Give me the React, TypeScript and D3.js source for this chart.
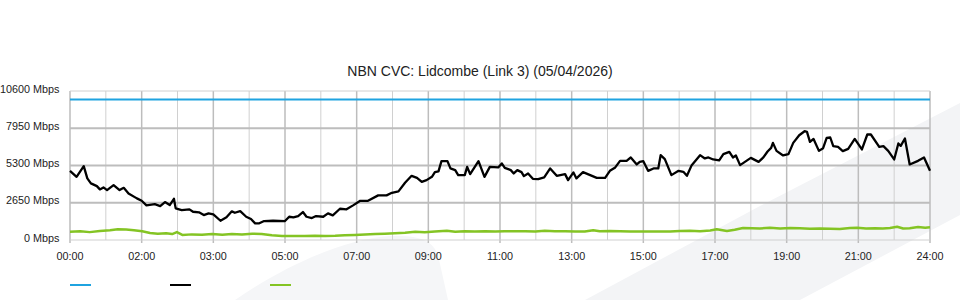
import React from "react";
import * as d3 from "d3";

const title = "NBN CVC: Lidcombe (Link 3) (05/04/2026)";
const yTicks = [0, 2650, 5300, 7950, 10600];
const xTickLabels = ["00:00", "02:00", "03:00", "05:00", "07:00", "09:00", "11:00", "13:00", "15:00", "17:00", "19:00", "21:00", "24:00"];
const capacity = 10000;

// minutes from start of chart, Mbps
const usageMinutes = [0, 11, 23, 29, 35, 45, 50, 56, 62, 73, 83, 90, 98, 112, 120, 128, 142, 151, 159, 167, 174, 177, 187, 200, 206, 216, 224, 232, 240, 252, 262, 271, 276, 285, 295, 303, 310, 317, 325, 340, 360, 367, 374, 382, 390, 396, 405, 412, 424, 432, 440, 452, 463, 474, 486, 499, 516, 530, 539, 550, 561, 572, 581, 589, 597, 606, 611, 617, 622, 632, 637, 645, 650, 661, 665, 670, 684, 694, 703, 717, 723, 728, 738, 743, 749, 756, 760, 767, 775, 784, 794, 804, 815, 829, 834, 843, 848, 859, 871, 882, 896, 904, 913, 921, 932, 939, 949, 954, 960, 968, 977, 985, 989, 996, 1007, 1019, 1027, 1033, 1041, 1055, 1063, 1069, 1077, 1087, 1094, 1104, 1110, 1115, 1122, 1140, 1153, 1161, 1168, 1174, 1177, 1183, 1194, 1203, 1211, 1221, 1230, 1234, 1239, 1245, 1254, 1261, 1267, 1273, 1278, 1286, 1294, 1303, 1314, 1326, 1335, 1341, 1355, 1362, 1370, 1380, 1387, 1391, 1398, 1406, 1420, 1430, 1440];
const usageValues = [4920, 4494, 5254, 4381, 4026, 3834, 3600, 3742, 3550, 3905, 3550, 3713, 3316, 2961, 2790, 2464, 2556, 2414, 2698, 2485, 2932, 2251, 2130, 2180, 2009, 1967, 1775, 1896, 1825, 1370, 1612, 2038, 1938, 2059, 1654, 1491, 1186, 1186, 1349, 1370, 1349, 1654, 1612, 1704, 1988, 1654, 1562, 1704, 1654, 1896, 1754, 2222, 2180, 2464, 2790, 2790, 3174, 3174, 3358, 3458, 4068, 4565, 4423, 4139, 4260, 4494, 4828, 4878, 5609, 5609, 5091, 4970, 4615, 4615, 5204, 4686, 5609, 4494, 5204, 5162, 5446, 5133, 4970, 4736, 4970, 4828, 4544, 4736, 4352, 4331, 4452, 5091, 4565, 4686, 4260, 4807, 4381, 4828, 4615, 4423, 4423, 4920, 5162, 5630, 5630, 5872, 5375, 5559, 5609, 4920, 5091, 5091, 6035, 5751, 4615, 4920, 4849, 4565, 5325, 6035, 5801, 5872, 5730, 5659, 6106, 6269, 5872, 6014, 5325, 5843, 5559, 5872, 6298, 6553, 6908, 6340, 6014, 6106, 6908, 7455, 7739, 7689, 6979, 7192, 6340, 6532, 7263, 7292, 6674, 6624, 6319, 6482, 7192, 6440, 7505, 7505, 6624, 6674, 6340, 5730, 6866, 6695, 7221, 5375, 5630, 5872, 4920];

const upMinutes = [0, 17, 33, 50, 67, 80, 94, 107, 121, 134, 147, 161, 171, 179, 188, 204, 221, 238, 255, 271, 288, 305, 321, 338, 355, 377, 393, 410, 427, 444, 460, 477, 494, 511, 527, 544, 561, 578, 594, 611, 631, 645, 661, 678, 695, 712, 728, 745, 762, 779, 795, 812, 829, 846, 862, 876, 887, 904, 921, 938, 954, 971, 988, 1005, 1021, 1038, 1055, 1072, 1083, 1100, 1113, 1127, 1142, 1155, 1172, 1189, 1206, 1222, 1239, 1256, 1273, 1289, 1306, 1318, 1333, 1348, 1361, 1373, 1385, 1395, 1406, 1420, 1432, 1440];
const upValues = [590, 620, 560, 640, 700, 760, 740, 690, 620, 500, 440, 480, 420, 560, 360, 400, 380, 420, 380, 420, 390, 440, 430, 330, 290, 290, 290, 310, 290, 300, 340, 360, 390, 420, 450, 480, 520, 580, 560, 600, 660, 590, 620, 600, 630, 600, 620, 630, 620, 600, 650, 620, 630, 610, 610, 700, 620, 640, 620, 600, 600, 610, 600, 610, 640, 660, 620, 680, 760, 640, 730, 860, 840, 820, 870, 820, 860, 830, 800, 820, 800, 790, 860, 870, 820, 830, 810, 860, 940, 820, 840, 920, 880, 910];

const W = 960, H = 300;
const left = 70, right = 930, top = 91, bottom = 240;

export default function App() {
  const x = d3.scaleLinear().domain([0, 1440]).range([left, right]);
  const y = d3.scaleLinear().domain([0, 10600]).range([bottom, top]);
  const line = d3.line<[number, number]>().x(d => x(d[0])).y(d => y(d[1]));
  const usage = usageMinutes.map((m, i) => [m, usageValues[i]] as [number, number]);
  const up = upMinutes.map((m, i) => [m, upValues[i]] as [number, number]);
  const hours = d3.range(0, 25).map(h => h * 60);
  const font = "'Liberation Sans', Arial, Helvetica, sans-serif";
  return (
    <svg width={W} height={H} style={{ position: "absolute", left: 0, top: 0, background: "#fff" }} fontFamily={font}>
      {/* watermark */}
      <path d="M585,300 L760,206 L960,103 L960,215 L800,300 Z" fill="#f3f4f6" />
      <path d="M235,300 C290,262 350,238 390,236 C420,235 432,240 438,255 L448,300 Z" fill="#f5f6f8" />
      <text x={480} y={76} textAnchor="middle" fontSize={14} fill="#222">{title}</text>
      {/* vertical grid */}
      {hours.map((m, i) => (
        <line key={"v" + i} x1={x(m)} x2={x(m)} y1={top} y2={bottom + (i % 2 === 0 ? 3 : 0)}
          stroke={i % 2 === 0 ? "#bdbdbd" : "#d0d0d0"} strokeWidth={i % 2 === 0 ? 1.5 : 1} />
      ))}
      {/* horizontal grid */}
      {yTicks.map((v, i) => (
        <line key={"h" + i} x1={left} x2={right} y1={y(v)} y2={y(v)}
          stroke={v === 0 || v === 10600 ? "#d0d0d0" : "#bdbdbd"} strokeWidth={v === 0 || v === 10600 ? 1 : 2} />
      ))}
      {yTicks.map((v, i) => (
        <text key={"yl" + i} x={59.5} y={y(v) + 1.5} textAnchor="end" fontSize={10.8} fill="#222">{v + " Mbps"}</text>
      ))}
      {xTickLabels.map((t, i) => (
        <text key={"xl" + i} x={x(i * 120)} y={260} textAnchor="middle" fontSize={10.8} fill="#222">{t}</text>
      ))}
      {/* series */}
      <line x1={x(0)} x2={x(1440)} y1={y(capacity)} y2={y(capacity)} stroke="#1fa3e0" strokeWidth={2} />
      <path d={line(up) || ""} fill="none" stroke="#84c424" strokeWidth={2.5} strokeLinejoin="round" />
      <path d={line(usage) || ""} fill="none" stroke="#000" strokeWidth={2.3} strokeLinejoin="round" />
      {/* legend */}
      <line x1={70} x2={91} y1={285} y2={285} stroke="#1fa3e0" strokeWidth={2} />
      <line x1={170} x2={191} y1={285} y2={285} stroke="#000" strokeWidth={2} />
      <line x1={270} x2={291} y1={285} y2={285} stroke="#84c424" strokeWidth={2} />
    </svg>
  );
}
